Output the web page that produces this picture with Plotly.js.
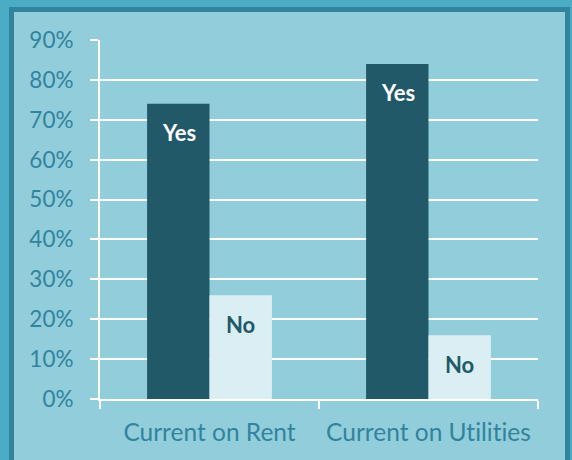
<!DOCTYPE html>
<html><head><meta charset="utf-8">
<script src="https://cdn.plot.ly/plotly-3.0.1.min.js"></script>
<style>
html,body{margin:0;padding:0;width:572px;height:460px;overflow:hidden;background:#4bacc6;}
#frame{position:absolute;left:9px;top:7px;width:551px;height:470px;border:5px solid #31849b;background:#92cddc;}
#chart{position:absolute;left:0;top:0;width:572px;height:460px;}
#chart text{font-variant-ligatures:none;font-feature-settings:"liga" 0,"clig" 0;}
</style></head>
<body>
<div id="frame"></div>
<div id="chart"></div>
<script>
const categories = ["Current on Rent", "Current on Utilities"];
const yesValues = [0.74, 0.84];
const noValues = [0.26, 0.16];
const seriesNames = ["Yes", "No"];
const yTickVals = [0, 0.1, 0.2, 0.3, 0.4, 0.5, 0.6, 0.7, 0.8, 0.9];
const yTickText = ["0%", "10%", "20%", "30%", "40%", "50%", "60%", "70%", "80%", "90%"];

const dark = "#215968", light = "#dbeef3", tickColor = "#31849b";
const font = "Lato, 'Open Sans', sans-serif";
const fs = 22.5;

const traces = [
  {type: "bar", name: seriesNames[0], x: categories, y: yesValues, marker: {color: dark}, hoverinfo: "none"},
  {type: "bar", name: seriesNames[1], x: categories, y: noValues, marker: {color: light}, hoverinfo: "none"}
];

const annotations = [];
categories.forEach((c, i) => {
  annotations.push({x: c, y: yesValues[i], xref: "x", yref: "y", text: "<b>" + seriesNames[0] + "</b>", showarrow: false,
    xshift: -31, yshift: -29, yanchor: "middle", font: {family: font, size: 22, color: "#ffffff"}});
  annotations.push({x: c, y: noValues[i], xref: "x", yref: "y", text: "<b>" + seriesNames[1] + "</b>", showarrow: false,
    xshift: 31, yshift: -29, yanchor: "middle", font: {family: font, size: 22, color: dark}});
});

const layout = {
  width: 572, height: 460,
  margin: {l: 100, r: 34, t: 40, b: 61},
  paper_bgcolor: "rgba(0,0,0,0)", plot_bgcolor: "rgba(0,0,0,0)",
  barmode: "group", bargap: 0.43, bargroupgap: 0,
  showlegend: false,
  font: {family: font, size: fs, color: tickColor},
  xaxis: {type: "category", showline: true, linecolor: "#ffffff", linewidth: 2,
    ticks: "outside", tickson: "boundaries", ticklen: 8, tickcolor: "#ffffff", tickwidth: 2,
    ticklabelstandoff: 11,
    showgrid: false, tickfont: {family: font, size: 24.5, color: tickColor}},
  yaxis: {range: [0, 0.9], tickvals: yTickVals, ticktext: yTickText, showline: true, linecolor: "#ffffff", linewidth: 2,
    ticks: "outside", ticklen: 8, tickcolor: "#ffffff", tickwidth: 2, showgrid: true, gridcolor: "#ffffff", gridwidth: 2,
    ticklabelstandoff: 12,
    zeroline: false, tickfont: {family: font, size: fs, color: tickColor}},
  annotations: annotations
};
Plotly.newPlot("chart", traces, layout, {displayModeBar: false, staticPlot: true});
</script>
</body></html>
